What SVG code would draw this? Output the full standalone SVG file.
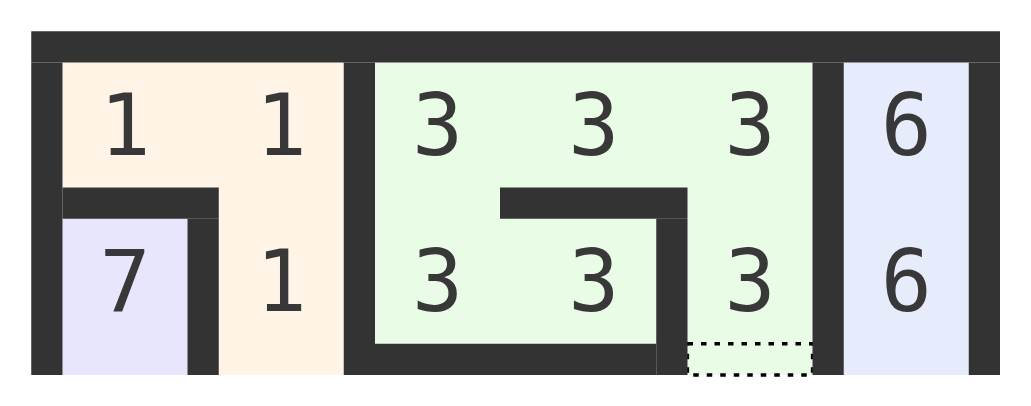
<svg xmlns="http://www.w3.org/2000/svg" width="1031" height="406" viewBox="0 0 1031 406">
<style>
.w{fill:#333333}
.t{font-family:"DejaVu Sans Mono",monospace;font-size:85px;fill:#383838;text-anchor:middle}
</style>
<rect width="1031" height="406" fill="#ffffff"/>
<g id="region-1">
<rect x="62.5" y="62.5" width="281.25" height="312.5" fill="#fff4e6"/>
</g>
<g id="region-7">
<rect x="62.5" y="218.75" width="125" height="156.25" fill="#e8e6fc"/>
</g>
<g id="region-3">
<rect x="375" y="62.5" width="437.5" height="281.25" fill="#e8fce6"/>
</g>
<g id="region-6">
<rect x="843.75" y="62.5" width="125" height="312.5" fill="#e6ecfc"/>
</g>
<g id="exit">
<rect x="687.5" y="343.75" width="125" height="31.25" fill="#e8fce6" stroke="#000" stroke-width="3.3" stroke-dasharray="5.5 8"/>
</g>
<g id="walls">
<rect class="w" x="31.25" y="31.25" width="968.75" height="31.25"/>
<rect class="w" x="31.25" y="62.5" width="31.25" height="312.5"/>
<rect class="w" x="968.75" y="62.5" width="31.25" height="312.5"/>
<rect class="w" x="62.5" y="187.5" width="156.25" height="31.25"/>
<rect class="w" x="187.5" y="218.75" width="31.25" height="156.25"/>
<rect class="w" x="343.75" y="62.5" width="31.25" height="312.5"/>
<rect class="w" x="375" y="343.75" width="281.25" height="31.25"/>
<rect class="w" x="500" y="187.5" width="187.5" height="31.25"/>
<rect class="w" x="656.25" y="218.75" width="31.25" height="156.25"/>
<rect class="w" x="812.5" y="62.5" width="31.25" height="312.5"/>
</g>
<g id="labels">
<text class="t" x="125" y="155">1</text>
<text class="t" x="281.25" y="155">1</text>
<text class="t" x="437.5" y="155">3</text>
<text class="t" x="593.75" y="155">3</text>
<text class="t" x="750" y="155">3</text>
<text class="t" x="906.25" y="155">6</text>
<text class="t" x="125" y="311">7</text>
<text class="t" x="281.25" y="311">1</text>
<text class="t" x="437.5" y="311">3</text>
<text class="t" x="593.75" y="311">3</text>
<text class="t" x="750" y="311">3</text>
<text class="t" x="906.25" y="311">6</text>
</g>
</svg>
